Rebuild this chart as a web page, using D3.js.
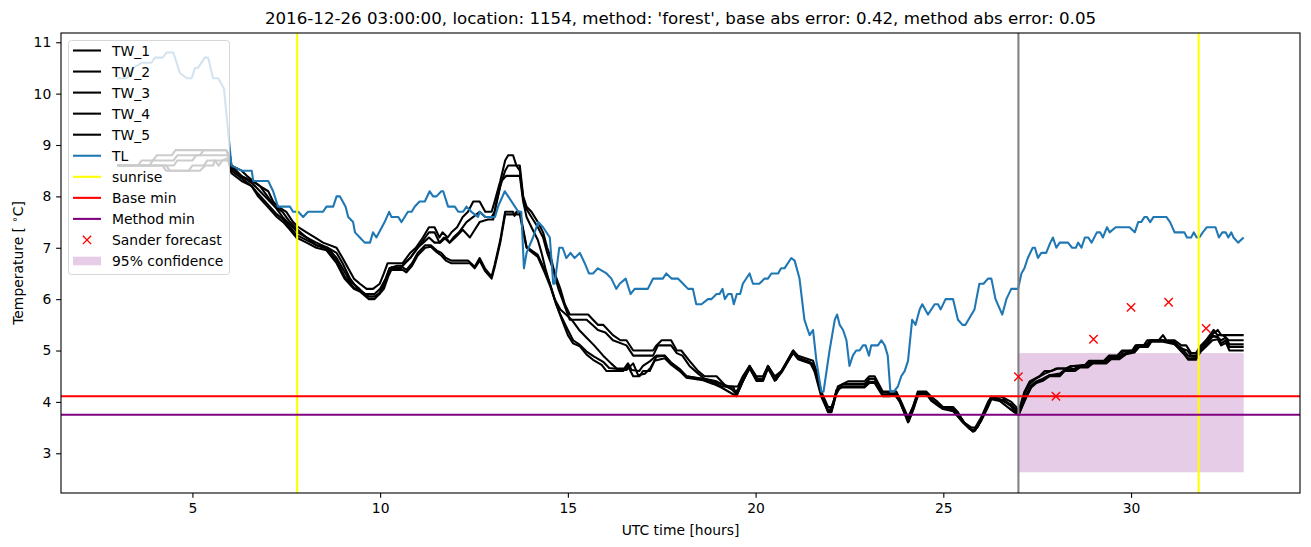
<!DOCTYPE html>
<html><head><meta charset="utf-8">
<script src="https://cdn.jsdelivr.net/npm/d3@7"></script>
<style>body{margin:0;background:#fff} text{font-family:"DejaVu Sans",sans-serif;fill:#000}</style>
</head><body><svg id="c" width="1311" height="547"></svg>
<script>
// ---------- data (hour, °C) ----------
const tlSeries = [[3.0,10.3],[3.25,10.3],[3.42,10.5],[3.65,10.6],[3.91,10.6],[4.0,10.7],[4.21,10.7],[4.31,10.8],[4.49,10.8],[4.67,10.4],[4.85,10.3],[4.98,10.3],[5.07,10.5],[5.15,10.5],[5.33,10.7],[5.42,10.7],[5.55,10.3],[5.69,10.3],[5.84,10.1],[6.0,8.9],[6.04,8.6],[6.31,8.5],[6.58,8.5],[6.62,8.3],[7.02,8.3],[7.15,8.1],[7.28,7.8],[7.6,7.8],[7.68,7.7],[7.82,7.7],[7.95,7.6],[8.08,7.7],[8.48,7.7],[8.57,7.8],[8.75,7.8],[8.84,8.0],[8.93,8.0],[9.08,7.8],[9.15,7.6],[9.28,7.5],[9.33,7.3],[9.46,7.2],[9.59,7.1],[9.73,7.1],[9.81,7.3],[9.9,7.2],[10.12,7.5],[10.24,7.7],[10.3,7.6],[10.48,7.6],[10.57,7.5],[10.74,7.7],[10.84,7.7],[10.92,7.8],[11.05,7.9],[11.19,7.9],[11.32,8.1],[11.41,8.0],[11.5,8.0],[11.63,8.1],[11.68,8.1],[11.81,7.8],[11.99,7.8],[12.08,7.7],[12.21,7.7],[12.3,7.8],[12.43,7.7],[12.61,7.6],[12.65,7.7],[12.8,7.6],[13.06,7.6],[13.14,7.8],[13.32,8.1],[13.41,8.0],[13.59,7.8],[13.68,7.7],[13.76,7.7],[13.83,6.6],[13.9,6.9],[14.07,7.2],[14.21,7.5],[14.34,7.4],[14.52,7.2],[14.61,6.3],[14.65,6.3],[14.77,7.0],[14.86,7.0],[14.96,6.8],[15.07,6.9],[15.18,6.8],[15.32,6.9],[15.45,6.7],[15.56,6.5],[15.67,6.5],[15.8,6.6],[16.03,6.5],[16.16,6.4],[16.29,6.2],[16.38,6.3],[16.54,6.4],[16.67,6.1],[16.78,6.2],[17.13,6.2],[17.27,6.4],[17.53,6.4],[17.62,6.5],[17.76,6.4],[17.93,6.4],[18.07,6.3],[18.2,6.2],[18.33,6.2],[18.42,5.9],[18.56,5.9],[18.73,6.0],[18.82,6.0],[18.96,6.1],[19.04,6.1],[19.12,6.2],[19.18,6.0],[19.27,6.1],[19.36,6.1],[19.42,5.9],[19.5,6.1],[19.59,6.1],[19.66,6.3],[19.84,6.5],[19.93,6.3],[20.1,6.3],[20.24,6.4],[20.33,6.4],[20.42,6.5],[20.6,6.5],[20.68,6.6],[20.77,6.6],[20.95,6.8],[21.04,6.75],[21.17,6.4],[21.3,5.6],[21.39,5.4],[21.44,5.3],[21.53,5.4],[21.62,4.8],[21.75,4.2],[21.81,4.2],[21.97,5.0],[22.11,5.6],[22.17,5.7],[22.24,5.5],[22.33,5.4],[22.42,5.2],[22.5,4.7],[22.59,4.9],[22.68,5.0],[22.77,5.0],[22.86,5.1],[22.93,5.1],[23.02,4.9],[23.08,5.1],[23.26,5.1],[23.35,5.2],[23.44,5.1],[23.52,4.9],[23.59,4.2],[23.68,4.2],[23.79,4.3],[23.88,4.5],[23.97,4.6],[24.06,4.8],[24.17,5.6],[24.26,5.5],[24.37,5.8],[24.44,5.9],[24.59,5.7],[24.77,5.9],[24.86,5.9],[24.93,5.8],[25.06,6.0],[25.26,6.0],[25.39,5.6],[25.51,5.5],[25.59,5.5],[25.83,5.8],[25.96,6.3],[26.07,6.3],[26.19,6.4],[26.28,6.4],[26.39,6.0],[26.57,5.7],[26.68,6.0],[26.81,6.2],[26.99,6.2],[27.08,6.5],[27.16,6.6],[27.25,6.8],[27.38,7.0],[27.44,7.0],[27.52,6.8],[27.61,6.9],[27.74,6.9],[27.85,7.1],[27.92,7.2],[28.01,7.0],[28.1,7.1],[28.32,7.1],[28.43,7.0],[28.53,7.0],[28.59,7.1],[28.68,7.0],[28.77,7.2],[28.86,7.2],[28.95,7.1],[29.09,7.3],[29.18,7.3],[29.25,7.2],[29.36,7.4],[29.43,7.3],[29.59,7.4],[29.96,7.4],[30.1,7.3],[30.19,7.5],[30.27,7.5],[30.36,7.6],[30.42,7.6],[30.51,7.5],[30.6,7.6],[30.94,7.6],[31.04,7.5],[31.16,7.3],[31.42,7.3],[31.49,7.2],[31.6,7.2],[31.67,7.3],[31.75,7.2],[31.82,7.2],[31.91,7.3],[32.02,7.4],[32.25,7.4],[32.34,7.2],[32.43,7.3],[32.52,7.3],[32.59,7.2],[32.67,7.3],[32.73,7.2],[32.85,7.1],[33.0,7.2]];

const tw1 = [[3.0,8.6],[3.55,8.6],[3.65,8.7],[3.95,8.7],[4.05,8.8],[4.45,8.8],[4.55,8.9],[5.9,8.9],[6.0,8.8],[6.04,8.6],[6.31,8.5],[6.45,8.4],[6.62,8.3],[6.8,8.2],[7.02,8.1],[7.15,7.9],[7.28,7.8],[7.5,7.7],[7.68,7.5],[7.82,7.4],[8.04,7.3],[8.26,7.2],[8.48,7.1],[8.84,7.0],[9.0,6.8],[9.15,6.6],[9.3,6.4],[9.46,6.3],[9.64,6.2],[9.81,6.2],[9.99,6.3],[10.1,6.5],[10.2,6.7],[10.6,6.7],[10.8,6.9],[10.95,7.0],[11.14,7.2],[11.3,7.4],[11.45,7.4],[11.58,7.2],[11.66,7.3],[11.8,7.2],[11.9,7.3],[12.05,7.4],[12.2,7.6],[12.34,7.7],[12.48,7.9],[12.65,7.9],[12.8,7.7],[12.97,7.7],[13.05,7.9],[13.2,8.3],[13.33,8.7],[13.41,8.8],[13.54,8.8],[13.63,8.6],[13.72,8.6],[13.81,8.0],[13.9,7.8],[14.03,7.7],[14.2,7.5],[14.34,7.3],[14.45,7.0],[14.55,6.8],[14.65,6.5],[14.8,6.2],[14.92,5.9],[15.05,5.7],[15.54,5.7],[15.67,5.6],[15.8,5.5],[15.94,5.5],[16.2,5.3],[16.4,5.2],[16.56,5.2],[16.74,5.0],[17.27,5.0],[17.36,5.1],[17.5,5.2],[17.75,5.2],[17.9,5.0],[18.02,5.0],[18.24,4.8],[18.47,4.6],[18.64,4.5],[18.96,4.5],[19.22,4.3],[19.53,4.3],[19.66,4.5],[19.84,4.7],[20.02,4.5],[20.2,4.5],[20.33,4.7],[20.51,4.5],[20.69,4.6],[21.0,5.0],[21.13,4.9],[21.53,4.8],[21.62,4.6],[21.75,4.2],[21.93,3.9],[22.02,3.9],[22.12,4.1],[22.19,4.3],[22.46,4.4],[22.9,4.4],[23.03,4.5],[23.17,4.5],[23.39,4.2],[23.75,4.2],[23.88,4.0],[24.06,3.7],[24.19,3.9],[24.32,4.2],[24.55,4.2],[24.68,4.1],[24.85,4.0],[24.99,3.9],[25.26,3.9],[25.39,3.8],[25.55,3.6],[25.75,3.5],[25.85,3.5],[26.01,3.7],[26.19,4.0],[26.28,4.1],[26.55,4.1],[26.81,4.0],[26.94,3.9],[27.0,3.8],[27.16,4.2],[27.3,4.4],[27.56,4.5],[27.7,4.6],[27.87,4.6],[28.01,4.65],[28.27,4.65],[28.4,4.7],[28.75,4.7],[28.88,4.8],[29.28,4.8],[29.41,4.9],[29.63,4.9],[29.76,5.0],[30.03,5.0],[30.12,5.1],[30.34,5.1],[30.43,5.2],[30.74,5.2],[30.85,5.3],[30.94,5.2],[31.16,5.2],[31.34,5.1],[31.47,5.1],[31.6,4.95],[31.73,4.95],[31.86,5.1],[32.0,5.2],[32.13,5.3],[32.31,5.4],[32.4,5.3],[33.0,5.3]];

const tw2 = [[3.0,8.6],[3.85,8.6],[3.95,8.7],[4.5,8.7],[4.6,8.8],[5.2,8.8],[5.3,8.9],[5.9,8.9],[6.0,8.7],[6.04,8.6],[6.3,8.4],[6.58,8.3],[6.8,8.2],[7.0,8.0],[7.2,7.8],[7.4,7.7],[7.6,7.5],[7.8,7.35],[8.04,7.2],[8.3,7.1],[8.6,7.0],[8.84,6.9],[9.0,6.7],[9.2,6.4],[9.4,6.2],[9.6,6.1],[9.85,6.1],[10.0,6.2],[10.15,6.4],[10.25,6.6],[10.55,6.6],[10.65,6.7],[10.8,6.8],[11.0,7.0],[11.2,7.2],[11.3,7.3],[11.45,7.3],[11.58,7.1],[11.7,7.2],[11.85,7.1],[11.95,7.2],[12.1,7.3],[12.3,7.5],[12.48,7.6],[12.65,7.7],[12.8,7.6],[12.97,7.6],[13.05,7.7],[13.2,8.2],[13.33,8.5],[13.41,8.6],[13.63,8.6],[13.72,8.5],[13.81,7.95],[13.9,7.75],[14.03,7.6],[14.2,7.4],[14.34,7.2],[14.45,6.9],[14.6,6.6],[14.75,6.2],[14.9,5.9],[15.05,5.6],[15.5,5.6],[15.65,5.5],[15.8,5.4],[16.0,5.35],[16.2,5.2],[16.56,5.1],[16.74,4.9],[17.27,4.9],[17.4,5.1],[17.75,5.1],[17.9,4.95],[18.05,4.9],[18.24,4.7],[18.47,4.55],[18.64,4.45],[18.96,4.4],[19.22,4.3],[19.49,4.2],[19.62,4.35],[19.84,4.65],[20.02,4.45],[20.2,4.45],[20.33,4.65],[20.51,4.45],[20.69,4.6],[21.0,4.95],[21.13,4.85],[21.5,4.75],[21.6,4.6],[21.75,4.15],[21.93,3.85],[22.02,3.85],[22.15,4.2],[22.3,4.3],[22.9,4.3],[23.03,4.45],[23.17,4.45],[23.35,4.2],[23.75,4.15],[23.88,3.95],[24.06,3.65],[24.19,3.9],[24.32,4.15],[24.55,4.15],[24.68,4.05],[24.85,3.95],[24.99,3.9],[25.26,3.85],[25.39,3.75],[25.55,3.6],[25.75,3.45],[25.85,3.45],[26.01,3.65],[26.19,3.95],[26.28,4.1],[26.5,4.05],[26.81,3.95],[26.94,3.85],[27.0,3.78],[27.16,4.15],[27.3,4.35],[27.46,4.45],[27.7,4.55],[27.87,4.6],[28.05,4.65],[28.3,4.65],[28.45,4.7],[28.8,4.72],[28.92,4.78],[29.3,4.78],[29.45,4.88],[29.65,4.88],[29.8,4.98],[30.05,5.0],[30.15,5.1],[30.4,5.1],[30.5,5.2],[30.85,5.2],[31.1,5.15],[31.3,5.05],[31.5,5.0],[31.6,4.9],[31.75,4.9],[31.9,5.1],[32.05,5.25],[32.2,5.4],[32.3,5.3],[32.45,5.3],[32.6,5.2],[33.0,5.2]];

const tw3 = [[3.0,8.6],[4.5,8.6],[4.6,8.7],[5.0,8.7],[5.1,8.8],[5.95,8.8],[6.04,8.55],[6.3,8.4],[6.6,8.25],[6.8,8.1],[7.0,7.95],[7.2,7.8],[7.4,7.6],[7.6,7.45],[7.8,7.3],[8.04,7.2],[8.3,7.05],[8.6,7.0],[8.84,6.8],[9.0,6.6],[9.2,6.35],[9.45,6.2],[9.65,6.05],[9.85,6.05],[9.98,6.1],[10.15,6.4],[10.25,6.6],[10.45,6.65],[10.6,6.65],[10.8,6.8],[11.0,7.0],[11.15,7.1],[11.3,7.2],[11.45,7.1],[11.6,7.1],[11.75,7.2],[11.85,7.1],[12.0,7.2],[12.2,7.35],[12.39,7.2],[12.52,7.35],[12.65,7.5],[12.87,7.55],[13.01,7.55],[13.1,7.9],[13.23,8.3],[13.36,8.4],[13.72,8.4],[13.81,7.9],[13.9,7.6],[14.03,7.4],[14.2,7.15],[14.3,6.9],[14.4,6.6],[14.52,6.3],[14.65,6.0],[14.8,5.8],[14.95,5.7],[15.1,5.6],[15.3,5.4],[15.5,5.25],[15.7,5.1],[15.94,4.9],[16.15,4.75],[16.3,4.65],[16.5,4.65],[16.6,4.75],[16.7,4.62],[16.9,4.6],[17.0,4.7],[17.2,4.8],[17.36,4.9],[17.58,4.9],[17.76,4.75],[17.98,4.62],[18.16,4.5],[18.6,4.45],[18.87,4.4],[19.09,4.35],[19.3,4.3],[19.49,4.15],[19.62,4.35],[19.84,4.7],[20.02,4.45],[20.2,4.45],[20.33,4.7],[20.51,4.45],[20.69,4.6],[21.0,5.0],[21.13,4.85],[21.5,4.75],[21.6,4.55],[21.75,4.15],[21.93,3.82],[22.02,3.82],[22.15,4.2],[22.33,4.35],[22.9,4.35],[23.03,4.45],[23.17,4.45],[23.39,4.15],[23.7,4.15],[23.84,4.0],[24.06,3.62],[24.2,3.9],[24.35,4.18],[24.55,4.18],[24.68,4.05],[24.9,3.92],[25.03,3.88],[25.26,3.86],[25.39,3.75],[25.61,3.55],[25.79,3.43],[25.92,3.52],[26.1,3.81],[26.28,4.08],[26.55,4.04],[26.81,3.92],[26.94,3.8],[27.0,3.76],[27.2,4.12],[27.34,4.32],[27.48,4.4],[27.65,4.45],[27.83,4.52],[28.1,4.55],[28.23,4.62],[28.5,4.65],[28.64,4.7],[28.85,4.72],[28.98,4.78],[29.34,4.8],[29.47,4.86],[29.69,4.88],[29.87,4.96],[30.09,5.0],[30.22,5.09],[30.45,5.12],[30.54,5.19],[30.85,5.2],[31.16,5.15],[31.34,5.05],[31.52,4.9],[31.73,4.88],[31.86,5.05],[32.0,5.15],[32.17,5.3],[32.31,5.25],[32.4,5.2],[32.53,5.25],[32.62,5.12],[33.0,5.12]];

const tw4 = [[3.0,8.6],[4.2,8.6],[4.3,8.5],[4.9,8.5],[5.0,8.6],[5.3,8.6],[5.4,8.7],[5.95,8.7],[6.04,8.5],[6.31,8.35],[6.58,8.2],[6.75,8.05],[7.0,7.85],[7.25,7.65],[7.42,7.55],[7.6,7.4],[7.77,7.25],[8.04,7.15],[8.3,7.05],[8.57,6.98],[8.84,6.75],[9.05,6.45],[9.3,6.22],[9.5,6.15],[9.7,6.05],[9.85,6.05],[9.98,6.12],[10.1,6.25],[10.22,6.5],[10.3,6.62],[10.6,6.62],[10.7,6.57],[10.85,6.7],[11.0,6.9],[11.2,7.05],[11.35,7.05],[11.5,6.95],[11.63,6.9],[11.75,6.8],[11.9,6.75],[12.34,6.75],[12.52,6.63],[12.65,6.8],[12.79,6.6],[12.97,6.44],[13.05,6.67],[13.2,7.15],[13.33,7.7],[13.54,7.7],[13.58,7.62],[13.63,7.7],[13.72,7.7],[13.8,7.4],[13.9,7.02],[14.03,6.95],[14.2,6.86],[14.38,6.57],[14.52,6.31],[14.68,5.92],[14.8,5.7],[15.0,5.4],[15.14,5.2],[15.3,5.12],[15.5,4.98],[15.7,4.88],[15.94,4.78],[16.1,4.66],[16.56,4.62],[16.74,4.75],[16.87,4.52],[17.05,4.55],[17.2,4.66],[17.36,4.88],[17.58,4.9],[17.76,4.76],[17.98,4.64],[18.16,4.5],[18.6,4.44],[18.87,4.38],[19.09,4.3],[19.4,4.3],[19.49,4.13],[19.62,4.33],[19.84,4.69],[20.06,4.43],[20.2,4.43],[20.33,4.69],[20.55,4.43],[20.77,4.69],[21.0,4.98],[21.17,4.85],[21.44,4.78],[21.57,4.59],[21.75,4.1],[21.93,3.81],[22.06,3.91],[22.15,4.23],[22.33,4.3],[22.9,4.3],[23.03,4.39],[23.17,4.39],[23.39,4.13],[23.57,4.13],[23.7,4.17],[23.84,4.04],[24.08,3.62],[24.23,3.91],[24.35,4.18],[24.55,4.18],[24.68,4.04],[24.9,3.91],[25.03,3.88],[25.26,3.88],[25.39,3.75],[25.61,3.55],[25.79,3.42],[25.92,3.52],[26.1,3.81],[26.28,4.1],[26.5,4.04],[26.63,4.04],[26.81,3.91],[26.94,3.78],[27.0,3.75],[27.21,4.1],[27.34,4.3],[27.48,4.39],[27.65,4.43],[27.83,4.52],[28.1,4.52],[28.23,4.62],[28.5,4.62],[28.64,4.69],[28.85,4.69],[28.98,4.77],[29.34,4.77],[29.47,4.85],[29.69,4.85],[29.87,4.95],[30.09,4.98],[30.22,5.09],[30.45,5.09],[30.54,5.19],[30.85,5.19],[31.16,5.17],[31.34,5.01],[31.52,4.82],[31.73,4.82],[31.86,5.01],[32.0,5.11],[32.17,5.27],[32.31,5.27],[32.4,5.14],[32.53,5.2],[32.62,5.07],[33.0,5.07]];

const tw5 = [[3.0,8.6],[4.3,8.6],[4.4,8.5],[5.2,8.5],[5.35,8.6],[5.55,8.6],[5.6,8.7],[5.7,8.6],[5.8,8.7],[5.95,8.75],[6.04,8.45],[6.31,8.3],[6.58,8.2],[6.75,8.0],[7.0,7.8],[7.25,7.6],[7.42,7.5],[7.6,7.35],[7.77,7.2],[8.04,7.1],[8.3,7.0],[8.57,6.95],[8.84,6.7],[9.05,6.4],[9.3,6.2],[9.46,6.15],[9.7,6.0],[9.85,6.0],[9.98,6.1],[10.1,6.2],[10.22,6.45],[10.3,6.57],[10.6,6.57],[10.7,6.52],[10.85,6.65],[11.0,6.85],[11.2,7.0],[11.35,7.02],[11.5,6.92],[11.63,6.85],[11.75,6.75],[11.9,6.7],[12.39,6.7],[12.52,6.6],[12.65,6.75],[12.79,6.55],[12.97,6.4],[13.05,6.62],[13.2,7.1],[13.33,7.65],[13.72,7.65],[13.8,7.35],[13.9,7.0],[14.03,6.92],[14.2,6.82],[14.38,6.52],[14.52,6.27],[14.7,5.88],[14.83,5.62],[15.0,5.3],[15.14,5.14],[15.32,5.08],[15.5,4.92],[15.67,4.82],[15.9,4.72],[16.03,4.6],[16.47,4.6],[16.6,4.7],[16.74,4.5],[16.91,4.5],[17.0,4.6],[17.18,4.6],[17.31,4.8],[17.58,4.85],[17.76,4.72],[17.98,4.6],[18.16,4.47],[18.6,4.42],[18.87,4.35],[19.09,4.28],[19.49,4.11],[19.66,4.41],[19.84,4.66],[20.02,4.41],[20.2,4.41],[20.33,4.66],[20.51,4.41],[20.69,4.57],[21.0,4.96],[21.13,4.83],[21.53,4.73],[21.62,4.54],[21.75,4.15],[21.93,3.8],[22.02,3.8],[22.15,4.15],[22.24,4.28],[22.9,4.28],[23.03,4.37],[23.17,4.37],[23.39,4.11],[23.57,4.11],[23.7,4.15],[23.84,4.02],[24.06,3.6],[24.19,3.84],[24.32,4.15],[24.55,4.15],[24.68,4.02],[24.81,3.95],[24.99,3.86],[25.26,3.82],[25.52,3.6],[25.7,3.47],[25.83,3.43],[26.01,3.63],[26.19,3.9],[26.28,4.05],[26.5,4.02],[26.85,3.82],[27.0,3.74],[27.2,4.08],[27.34,4.28],[27.48,4.37],[27.65,4.41],[27.83,4.5],[28.1,4.5],[28.23,4.6],[28.5,4.6],[28.64,4.67],[28.85,4.67],[28.98,4.75],[29.34,4.75],[29.47,4.83],[29.69,4.83],[29.87,4.93],[30.09,4.96],[30.22,5.07],[30.45,5.07],[30.54,5.17],[30.85,5.17],[31.16,5.12],[31.34,4.98],[31.52,4.85],[31.73,4.85],[31.86,4.98],[32.0,5.08],[32.17,5.2],[32.31,5.22],[32.4,5.1],[32.53,5.15],[32.62,5.0],[33.0,5.0]];

const twNames = ["TW_1","TW_2","TW_3","TW_4","TW_5"];
const sunriseHours = [7.79, 31.8];
const forecastHour = [27];
const baseMin = [4.11];
const methodMin = [3.75];
const sanderHours = [27, 28, 29, 30, 31, 32];
const sanderValues = [4.49, 4.11, 5.22, 5.84, 5.94, 5.43];
const confHours = [27, 33];
const confBounds = [2.63, 4.95];
const xTicks = [5, 10, 15, 20, 25, 30];
const yTicks = [3, 4, 5, 6, 7, 8, 9, 10, 11];
const legendLabels = ["TW_1","TW_2","TW_3","TW_4","TW_5","TL","sunrise","Base min","Method min","Sander forecast","95% confidence"];
const titleText = "2016-12-26 03:00:00, location: 1154, method: 'forest', base abs error: 0.42, method abs error: 0.05";

// ---------- layout ----------
const L = 61, R = 1300, T = 33, B = 493;
const FS = 13.9, LW = 2.08, mk = 4.17;
const svg = d3.select("#c");
const x = d3.scaleLinear().domain([1.5, 34.5]).range([L, R]);
const y = d3.scaleLinear().domain([2.227, 11.18]).range([B, T]);

svg.append("defs").append("clipPath").attr("id","clip")
  .append("rect").attr("x",L).attr("y",T).attr("width",R-L).attr("height",B-T);
const g = svg.append("g").attr("clip-path","url(#clip)");

// confidence band
g.append("rect")
  .attr("x", x(confHours[0])).attr("width", x(confHours[1]) - x(confHours[0]))
  .attr("y", y(confBounds[1])).attr("height", y(confBounds[0]) - y(confBounds[1]))
  .attr("fill", "purple").attr("fill-opacity", 0.2);

const line = d3.line().x(d => x(d[0])).y(d => y(d[1]));
[tw1, tw2, tw3, tw4, tw5].forEach(s => {
  g.append("path").attr("d", line(s)).attr("fill","none").attr("stroke","#000")
   .attr("stroke-width",LW).attr("stroke-linejoin","round");
});
g.append("path").attr("d", line(tlSeries)).attr("fill","none").attr("stroke","#1f77b4")
  .attr("stroke-width",LW).attr("stroke-linejoin","round");

// vertical lines
sunriseHours.forEach(h => g.append("line").attr("x1",x(h)).attr("x2",x(h)).attr("y1",T).attr("y2",B)
  .attr("stroke","#ffff00").attr("stroke-width",LW));
forecastHour.forEach(h => g.append("line").attr("x1",x(h)).attr("x2",x(h)).attr("y1",T).attr("y2",B)
  .attr("stroke","#808080").attr("stroke-width",LW));
// horizontal lines
baseMin.forEach(v => g.append("line").attr("x1",L).attr("x2",R).attr("y1",y(v)).attr("y2",y(v))
  .attr("stroke","#ff0000").attr("stroke-width",LW));
methodMin.forEach(v => g.append("line").attr("x1",L).attr("x2",R).attr("y1",y(v)).attr("y2",y(v))
  .attr("stroke","#800080").attr("stroke-width",LW));

// sander forecast markers
sanderHours.forEach((h, i) => {
  const cx = x(h), cy = y(sanderValues[i]);
  g.append("path").attr("d", `M${cx-mk},${cy-mk}L${cx+mk},${cy+mk}M${cx-mk},${cy+mk}L${cx+mk},${cy-mk}`)
   .attr("stroke","#ff0000").attr("stroke-width",1.39);
});

// axes
const xa = svg.append("g").attr("transform",`translate(0,${B})`)
  .call(d3.axisBottom(x).tickValues(xTicks).tickSize(4.86).tickPadding(4.86).tickFormat(d3.format("d")));
const ya = svg.append("g").attr("transform",`translate(${L},0)`)
  .call(d3.axisLeft(y).tickValues(yTicks).tickSize(4.86).tickPadding(4.86).tickFormat(d3.format("d")));
[xa, ya].forEach(a => {
  a.select(".domain").remove();
  a.selectAll("text").attr("font-size", FS).attr("font-family","DejaVu Sans").attr("fill","#000");
  a.selectAll("line").attr("stroke","#000").attr("stroke-width",1.1);
});
svg.append("rect").attr("x",L).attr("y",T).attr("width",R-L).attr("height",B-T)
  .attr("fill","none").attr("stroke","#000").attr("stroke-width",1.1);

// titles
svg.append("text").attr("x",(L+R)/2).attr("y",24).attr("text-anchor","middle")
  .attr("font-size",16.67).text(titleText);
svg.append("text").attr("x",(L+R)/2).attr("y",535).attr("text-anchor","middle")
  .attr("font-size",FS).text("UTC time [hours]");
const yl = svg.append("text").attr("transform",`translate(23,${(T+B)/2}) rotate(-90)`)
  .attr("text-anchor","middle").attr("font-size",FS);
yl.append("tspan").text("Temperature [ ");
yl.append("tspan").attr("font-size",10).attr("dy",-5).text("∘");
yl.append("tspan").attr("dy",5).text("C]");

// legend
const lg = svg.append("g");
lg.append("rect").attr("x",68.5).attr("y",40.5).attr("width",161).attr("height",234).attr("rx",3)
  .attr("fill","#fff").attr("fill-opacity",0.8).attr("stroke","#cccccc").attr("stroke-opacity",0.8);
const styles = ["#000","#000","#000","#000","#000","#1f77b4","#ffff00","#ff0000","#800080","x","band"];
legendLabels.forEach((lab, i) => {
  const cy = 50.5 + i * 21.05;
  const st = styles[i];
  if (st === "x") {
    const cx = 87;
    lg.append("path").attr("d", `M${cx-mk},${cy-mk}L${cx+mk},${cy+mk}M${cx-mk},${cy+mk}L${cx+mk},${cy-mk}`)
      .attr("stroke","#ff0000").attr("stroke-width",1.39);
  } else if (st === "band") {
    lg.append("rect").attr("x",73).attr("y",cy-4.3).attr("width",28).attr("height",8.6)
      .attr("fill","purple").attr("fill-opacity",0.2);
  } else {
    lg.append("line").attr("x1",73).attr("x2",101).attr("y1",cy).attr("y2",cy)
      .attr("stroke",st).attr("stroke-width",LW);
  }
  lg.append("text").attr("x",112).attr("y",cy).attr("dy","0.36em").attr("font-size",FS).text(lab);
});
</script></body></html>
